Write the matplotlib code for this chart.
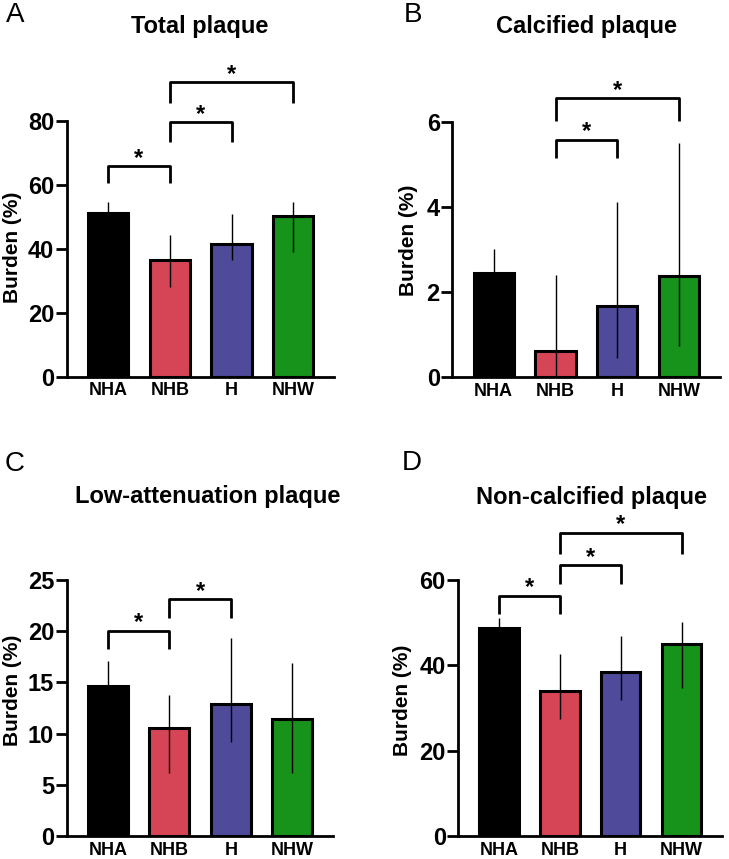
import numpy as np
import matplotlib
matplotlib.use('Agg')
import matplotlib.pyplot as plt

plt.rcParams['font.family'] = ['Liberation Sans', 'DejaVu Sans']

# Groups and colours
groups = ['NHA', 'NHB', 'H', 'NHW']
bar_colors = ['#000000', '#D64555', '#4F4A9A', '#17921A']

# Total plaque: median, lower and upper quartile
total_med = [51.1, 36.4, 41.4, 50.3]
total_lo = [47.0, 28.1, 36.5, 39.1]
total_hi = [54.7, 44.3, 50.7, 54.7]

# Calcified plaque
calc_med = [2.46, 0.62, 1.68, 2.37]
calc_lo = [2.0, 0.0, 0.46, 0.73]
calc_hi = [3.01, 2.40, 4.12, 5.49]

# Low-attenuation plaque
low_med = [14.6, 10.5, 12.9, 11.4]
low_lo = [12.5, 6.2, 9.2, 6.2]
low_hi = [17.1, 13.8, 19.3, 16.9]

# Non-calcified plaque
nonc_med = [48.7, 34.1, 38.5, 45.0]
nonc_lo = [45.0, 27.4, 31.8, 34.8]
nonc_hi = [51.0, 42.6, 46.9, 50.1]

# Significance brackets: (group i, group j, bracket level, leg end)
total_sig = [(0, 1, 65.8, 60.4), (1, 2, 79.5, 73.4), (1, 3, 92.1, 85.4)]
calc_sig = [(1, 2, 5.58, 5.14), (1, 3, 6.55, 6.02)]
low_sig = [(0, 1, 20.05, 18.3), (1, 2, 23.1, 21.3)]
nonc_sig = [(0, 1, 56.3, 52.1), (1, 2, 63.4, 59.0), (1, 3, 71.1, 66.1)]

W, H = 729, 859
fig = plt.figure(figsize=(W / 100, H / 100), dpi=100)


def px_axes(x0, x1, y_top, y_bot):
    return fig.add_axes([x0 / W, 1 - y_bot / H, (x1 - x0) / W, (y_bot - y_top) / H])


def draw_panel(ax, med, lo, hi, sig, ymax, yticks):
    x = np.arange(len(groups))
    ax.bar(x, med, width=0.65, color=bar_colors, edgecolor='black',
           linewidth=2.2, zorder=2)
    ax.vlines(x, lo, hi, color='black', linewidth=1.0, zorder=3)
    for i, j, level, leg in sig:
        ax.plot([i, i, j, j], [leg, level, level, leg], color='black',
                linewidth=2.0, clip_on=False, solid_capstyle='butt')
        ax.annotate('*', xy=((i + j) / 2, level), xytext=(0, 1),
                    textcoords='offset points', ha='center', va='baseline',
                    fontsize=17, fontweight='bold', annotation_clip=False)
    ax.set_xlim(-0.67, 3.66)
    ax.set_ylim(0, ymax)
    ax.set_yticks(yticks)
    ax.set_yticklabels([str(t) for t in yticks], fontsize=17, fontweight='bold')
    ax.set_xticks(x)
    ax.set_xticklabels(groups, fontsize=13, fontweight='bold')
    ax.tick_params(axis='x', length=0, pad=4)
    ax.tick_params(axis='y', length=8, width=2, pad=1)
    for s in ['top', 'right']:
        ax.spines[s].set_visible(False)
    for s in ['left', 'bottom']:
        ax.spines[s].set_linewidth(2)


axA = px_axes(66.7, 334, 120.7, 376.7)
draw_panel(axA, total_med, total_lo, total_hi, total_sig, 80, [0, 20, 40, 60, 80])
axB = px_axes(452.3, 720, 121.7, 377.3)
draw_panel(axB, calc_med, calc_lo, calc_hi, calc_sig, 6, [0, 2, 4, 6])
axC = px_axes(66.7, 333, 580, 836)
draw_panel(axC, low_med, low_lo, low_hi, low_sig, 25, [0, 5, 10, 15, 20, 25])
axD = px_axes(458.3, 721.7, 580, 836.3)
draw_panel(axD, nonc_med, nonc_lo, nonc_hi, nonc_sig, 60, [0, 20, 40, 60])


def ftext(x, y, s, **kw):
    fig.text(x / W, 1 - y / H, s, **kw)


# Panel letters
ftext(15, 15, 'A', fontsize=20, ha='center', va='center')
ftext(413, 15, 'B', fontsize=20, ha='center', va='center')
ftext(15, 464, 'C', fontsize=20, ha='center', va='center')
ftext(412, 463, 'D', fontsize=20, ha='center', va='center')

# Titles
ftext(200, 27, 'Total plaque', fontsize=17, fontweight='bold', ha='center', va='center')
ftext(587, 27, 'Calcified plaque', fontsize=17, fontweight='bold', ha='center', va='center')
ftext(208, 496, 'Low-attenuation plaque', fontsize=17, fontweight='bold', ha='center', va='center')
ftext(592, 497, 'Non-calcified plaque', fontsize=17, fontweight='bold', ha='center', va='center')

# Y labels
ftext(12, 247, 'Burden (%)', fontsize=15, fontweight='bold', rotation=90, ha='center', va='center')
ftext(409, 240, 'Burden (%)', fontsize=15, fontweight='bold', rotation=90, ha='center', va='center')
ftext(12, 690, 'Burden (%)', fontsize=15, fontweight='bold', rotation=90, ha='center', va='center')
ftext(403, 700, 'Burden (%)', fontsize=15, fontweight='bold', rotation=90, ha='center', va='center')

fig.savefig('out.png', dpi=100)
